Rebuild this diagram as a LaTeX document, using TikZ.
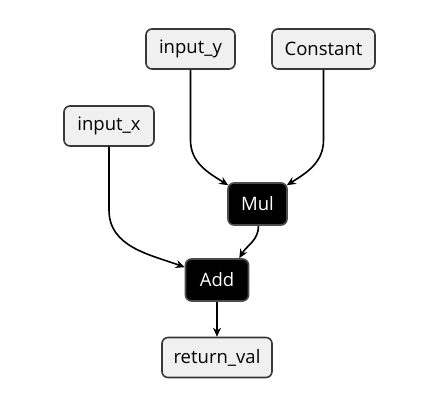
\documentclass[tikz,border=0pt]{standalone}
\usepackage{fontspec}
\setmainfont{Open Sans}
\usetikzlibrary{arrows.meta}
\begin{document}
\begin{tikzpicture}[x=1pt,y=1pt,
  lightbox/.style={draw=black!78, line width=1.6pt, fill=black!6, rounded corners=6pt,
    minimum height=40pt, inner sep=0pt, text=black, font=\fontsize{18.5}{22}\selectfont},
  darkbox/.style={draw=black!70, line width=1.6pt, fill=black, rounded corners=6pt,
    minimum height=42pt, inner sep=0pt, text=white, font=\fontsize{18.5}{22}\selectfont},
  conn/.style={line width=1.6pt, -{Stealth[length=9pt,width=8pt]}}]
\useasboundingbox (0,0) rectangle (432,-407);
\node[lightbox, minimum width=89pt] (iy) at (190.5,-49) {input\_y};
\node[lightbox, minimum width=103pt] (c) at (323.5,-49) {Constant};
\node[lightbox, minimum width=90pt] (ix) at (109,-126) {input\_x};
\node[darkbox, minimum width=59pt] (mul) at (257.5,-204) {Mul};
\node[darkbox, minimum width=63pt] (add) at (217,-280) {Add};
\node[lightbox, minimum width=110pt] (rv) at (217,-357.5) {return\_val};
\coordinate (iyb) at (190.5,-140);
\coordinate (cb) at (323.5,-140);
\coordinate (ixb) at (109,-210);
\draw[conn] (iy.south) -- (iyb) to[out=-90,in=148] ([shift={(1,-3)}]mul.north west);
\draw[conn] (c.south) -- (cb) to[out=-90,in=32] ([shift={(-1,-3)}]mul.north east);
\draw[conn] (ix.south) -- (ixb) to[out=-90,in=160] ([yshift=-9pt]add.north west);
\draw[conn] ([xshift=1pt]mul.south) to[out=-90,in=60] ([xshift=-10pt]add.north east);
\draw[conn] (add.south) -- (rv.north);
\end{tikzpicture}
\end{document}
